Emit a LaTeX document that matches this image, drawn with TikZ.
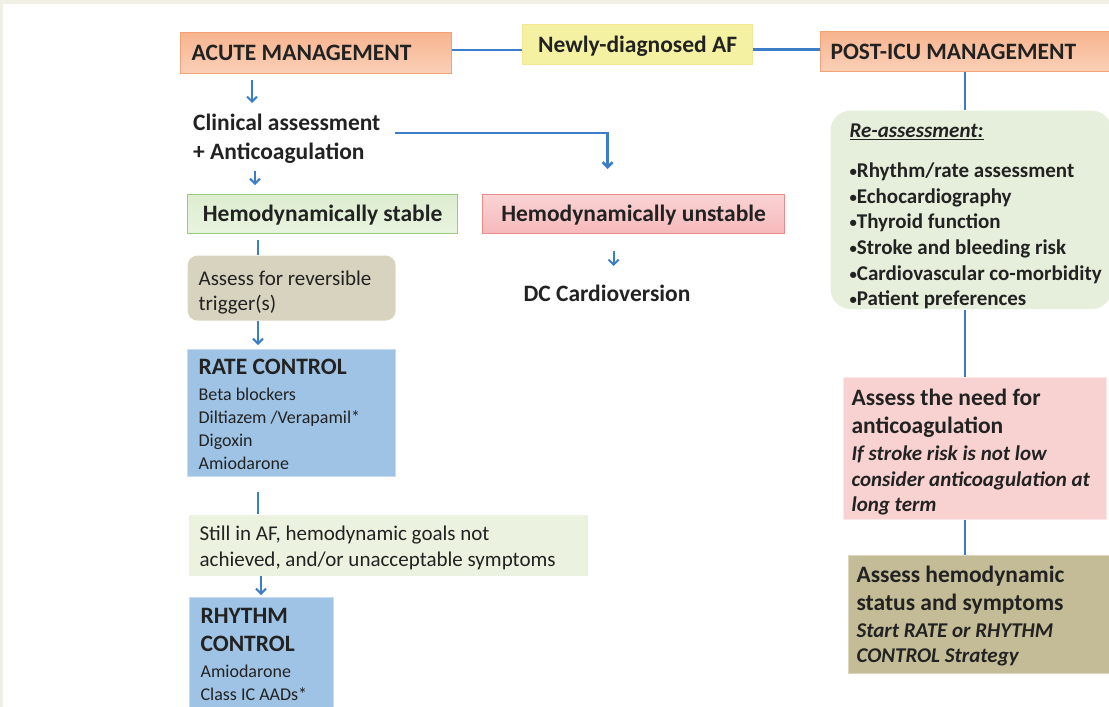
\documentclass[tikz,border=0pt]{standalone}
\usepackage{fontspec}
\setmainfont{Carlito}
\usepackage{graphicx}
\usepackage{tikz}
\usetikzlibrary{arrows.meta}
\setlength{\parindent}{0pt}

\definecolor{lineblue}{HTML}{3B7DC8}
\definecolor{framebg}{HTML}{EFEFE4}
\definecolor{textdark}{HTML}{222222}
\definecolor{orangetop}{HTML}{F7B48E}
\definecolor{orangebot}{HTML}{FAD0B8}
\definecolor{orangeline}{HTML}{F3A276}
\definecolor{yellowfill}{HTML}{F4F1A2}
\definecolor{greentop}{HTML}{DDEDD0}
\definecolor{greenbot}{HTML}{E9F4E0}
\definecolor{greenline}{HTML}{98CC7C}
\definecolor{redtop}{HTML}{F9D3D4}
\definecolor{redbot}{HTML}{F6B9BB}
\definecolor{redline}{HTML}{EC8A8A}
\definecolor{tanfill}{HTML}{D8D3BE}
\definecolor{bluefill}{HTML}{9FC3E4}
\definecolor{blueline}{HTML}{C8DCF0}
\definecolor{palegreen}{HTML}{EBF2DF}
\definecolor{reassfill}{HTML}{E6EFDB}
\definecolor{pinkfill}{HTML}{F8D2D1}
\definecolor{pinkline}{HTML}{FBE8E8}
\definecolor{khakifill}{HTML}{C3BC96}
\definecolor{khakiline}{HTML}{DCD7BA}

\newcommand{\fntHead}{\fontsize{23.5}{28}\selectfont\bfseries}
\newcommand{\fntBody}{\fontsize{21}{25.5}\selectfont\mdseries}
\newcommand{\fntSmall}{\fontsize{18}{22.7}\selectfont\mdseries}
\newcommand{\fntBul}{\fontsize{21}{25.7}\selectfont\bfseries}
\newcommand{\fntNote}{\fontsize{21}{25.5}\selectfont\bfseries\itshape}
\newcommand{\bul}{\raisebox{1pt}{\scalebox{0.7}{•}}}
\newcommand{\lift}[1]{\rule{0pt}{#1}}

\begin{document}
\begin{tikzpicture}[
    x=1pt, y=-1pt,
    every node/.style={anchor=north west, inner ysep=0pt, align=flush left, text=textdark},
    box/.style={rectangle, draw, line width=1.2pt, inner xsep=11pt},
    link/.style={draw=lineblue, line width=2.6pt},
    arr/.style={draw=lineblue, line width=2pt, -{Straight Barb[length=5pt,width=10pt]}}
  ]
  \useasboundingbox (0,0) rectangle (1109,707);
  \fill[framebg] (0,0) rectangle (1109,4);
  \fill[framebg] (0,0) rectangle (3,707);

  % top row
  \node (acute) [box, draw=orangeline, top color=orangetop, bottom color=orangebot,
    text width=249pt, minimum height=41pt, font=\fntHead] at (180,32) {ACUTE MANAGEMENT};
  \node (newly) [box, draw=yellowfill!90!orange, fill=yellowfill,
    minimum width=230pt, minimum height=40pt, font=\fntHead] at (522,24) {\lift{19pt}Newly-diagnosed AF};
  \node (post) [box, draw=orangeline, top color=orangetop, bottom color=orangebot,
    inner xsep=10pt, text width=290pt, minimum height=40pt, font=\fntHead] at (820,31) {POST-ICU MANAGEMENT};

  % acute branch
  \node (clin) [inner sep=0pt, text width=200pt, font=\fntHead] at (193,114)
    {Clinical assessment\\[1pt] + Anticoagulation\par};
  \node (stable) [box, draw=greenline, top color=greentop, bottom color=greenbot,
    minimum width=270pt, minimum height=39pt, font=\fntHead] at (187,194) {\lift{19pt}Hemodynamically stable};
  \node (unstable) [box, draw=redline, top color=redtop, bottom color=redbot,
    minimum width=302pt, minimum height=39pt, font=\fntHead] at (482,194) {\lift{19pt}Hemodynamically unstable};
  \node (dc) [anchor=north, inner sep=0pt, font=\fntHead] at (607,285) {DC Cardioversion};
  \node (trig) [box, draw=none, fill=tanfill, rounded corners=10pt,
    text width=186pt, minimum height=65pt, font=\fntBody] at (187,255)
    {\lift{23pt}Assess for reversible\\ trigger(s)\par};
  \node (rate) [box, draw=blueline, fill=bluefill, text width=186pt, minimum height=127pt,
    font=\fntHead] at (187,349)
    {\lift{18pt}RATE CONTROL\\ \fontsize{18}{26}\selectfont\mdseries Beta blockers\\ \fntSmall
     Diltiazem /Verapamil*\\ Digoxin\\ Amiodarone\par};
  \node (still) [box, draw=none, fill=palegreen, text width=377pt, minimum height=61pt,
    font=\fntBody] at (188,514)
    {\lift{20pt}Still in AF, hemodynamic goals not\\ achieved, and/or unacceptable symptoms\par};
  \node (rhythm) [box, draw=blueline, fill=bluefill, text width=122pt, inner ysep=11pt,
    font=\fntHead] at (189,597)
    {RHYTHM\\ CONTROL\\ \fontsize{18}{26}\selectfont\mdseries Amiodarone\\ \fntSmall Class IC AADs*\par};

  % post-ICU branch
  \node (reass) [box, draw=none, fill=reassfill, rounded corners=20pt, inner xsep=9pt,
    text width=263pt, minimum height=195pt, font=\fntBul] at (830,110)
    {\leftskip=10pt \rightskip=-20pt plus 1fil
     \lift{27pt}\textit{\underline{Re-assessment:}}\\[14pt]
     \bul Rhythm/rate assessment\\ \bul Echocardiography\\ \bul Thyroid function\\
     \bul Stroke and bleeding risk\\ \bul Cardiovascular co-morbidity\\ \bul Patient preferences\par};
  \node (need) [box, draw=pinkline, fill=pinkfill, inner xsep=8pt, text width=247pt,
    minimum height=142pt, font=\fntHead] at (843,377)
    {\lift{23pt}Assess the need for\\ anticoagulation\\[2pt] \fntNote If stroke risk is not low\\
     consider anticoagulation at\\ long term\par};
  \node (hemo) [box, draw=khakiline, fill=khakifill, inner xsep=8pt, text width=262pt,
    minimum height=118pt, font=\fntHead] at (848,555)
    {\lift{19pt}Assess hemodynamic\\ status and symptoms\\[1.5pt] \fntNote Start RATE or RHYTHM\\
     CONTROL Strategy\par};

  % connectors
  \draw[link] ([yshift=3pt]acute.east) -- ([yshift=3pt]acute.east -| newly.west);
  \draw[link] ([yshift=2pt]post.west) -- ([yshift=2pt]post.west -| newly.east);
  \draw[arr, shorten <=6pt, shorten >=11pt] ([xshift=72pt]acute.south west)
    -- ([xshift=72pt]acute.south west |- clin.north);
  \draw[arr, shorten <=7pt, shorten >=9pt] ([xshift=62pt]clin.south west)
    -- ([xshift=62pt]clin.south west |- stable.north);
  \draw[arr, line width=2.6pt, shorten <=2pt, shorten >=25pt] ([yshift=-19pt]clin.north east)
    -| ([xshift=-26pt]unstable.north);
  \draw[arr, shorten <=17pt, shorten >=19pt] ([xshift=-20pt]unstable.south)
    -- ([xshift=-20pt]unstable.south |- dc.north);
  \draw[link, shorten <=6pt] ([xshift=71pt]stable.south west)
    -- ([xshift=71pt]stable.south west |- trig.north);
  \draw[arr, shorten >=4pt] ([xshift=71pt]trig.south west)
    -- ([xshift=71pt]trig.south west |- rate.north);
  \draw[link, shorten <=15pt] ([xshift=71pt]rate.south west)
    -- ([xshift=71pt]rate.south west |- still.north);
  \draw[arr, shorten >=2pt] ([xshift=73pt]still.south west)
    -- ([xshift=73pt]still.south west |- rhythm.north);
  \draw[link] ([xshift=145pt]post.south west) -- ([xshift=145pt]post.south west |- reass.north);
  \draw[link] ([xshift=135pt]reass.south west) -- ([xshift=135pt]reass.south west |- need.north);
  \draw[link] ([xshift=122pt]need.south west) -- ([xshift=122pt]need.south west |- hemo.north);
\end{tikzpicture}
\end{document}
